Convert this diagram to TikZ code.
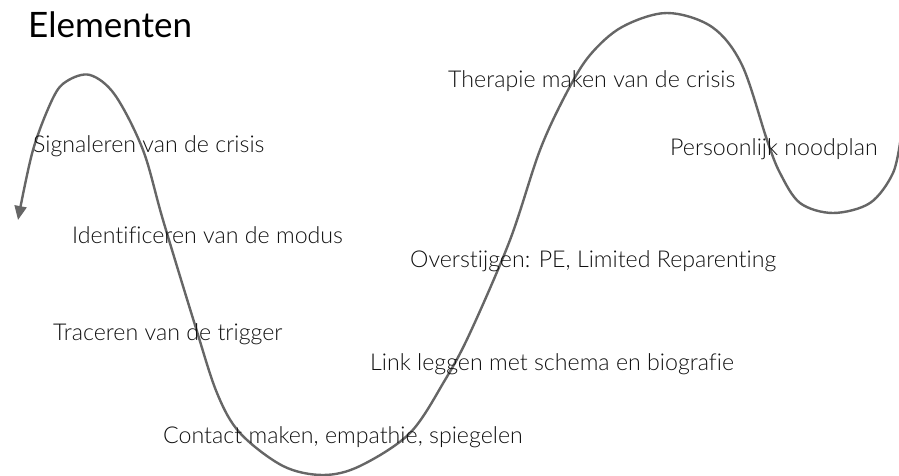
\documentclass[tikz,border=0pt]{standalone}
\usepackage{fontspec}
\setmainfont{Lato}[Ligatures={NoCommon,NoRare},UprightFont={* Light}]
\newfontfamily\titlefont{Lato}[Ligatures={NoCommon,NoRare}]
\usetikzlibrary{arrows.meta}
\definecolor{curvegray}{HTML}{666666}
\definecolor{textgray}{HTML}{111111}
\begin{document}
\begin{tikzpicture}[x=1pt,y=-1pt,
  lbl/.style={anchor=base west,inner sep=0pt,text=textgray,font=\fontsize{23.2}{26}\selectfont},
  ttl/.style={anchor=base west,inner sep=0pt,text=black,font=\titlefont\fontsize{35}{40}\selectfont},
  wave/.style={draw=curvegray,line width=2.4pt,-{Triangle[length=14pt,width=12pt]}}]
\useasboundingbox (0,0) rectangle (899,476);
\node[ttl] (title) at (28,38) {Elementen};
\draw[wave] plot[smooth,tension=0.55] coordinates {
 (901,136) (893,173) (870,203) (833,213) (800,203) (780,173) (767,140)
 (742,65) (712,27) (667,13) (622,27) (590,55) (567,92) (540,150) (510,240)
 (470,333) (445,380) (410,433) (360,466) (323,475) (283,466) (240,433) (217,393)
 (195,325) (163,220) (143,150) (115,95) (90,75) (67,81) (53,98) (33,150) (18,220)};
\node[lbl] (therapie) at (448,88) {Therapie maken van de crisis};
\node[lbl] (signal) at (33,153) {Signaleren van de crisis};
\node[lbl] (nood) at (670,155) {Persoonlijk noodplan};
\node[lbl] (ident) at (72,243) {Identificeren van de modus};
\node[lbl] (over) at (410,267) {Overstijgen: PE, Limited Reparenting};
\node[lbl] (trace) at (53,340) {Traceren van de trigger};
\node[lbl] (link) at (370,370) {Link leggen met schema en biografie};
\node[lbl] (contact) at (163,443) {Contact maken, empathie, spiegelen};
\end{tikzpicture}
\end{document}
